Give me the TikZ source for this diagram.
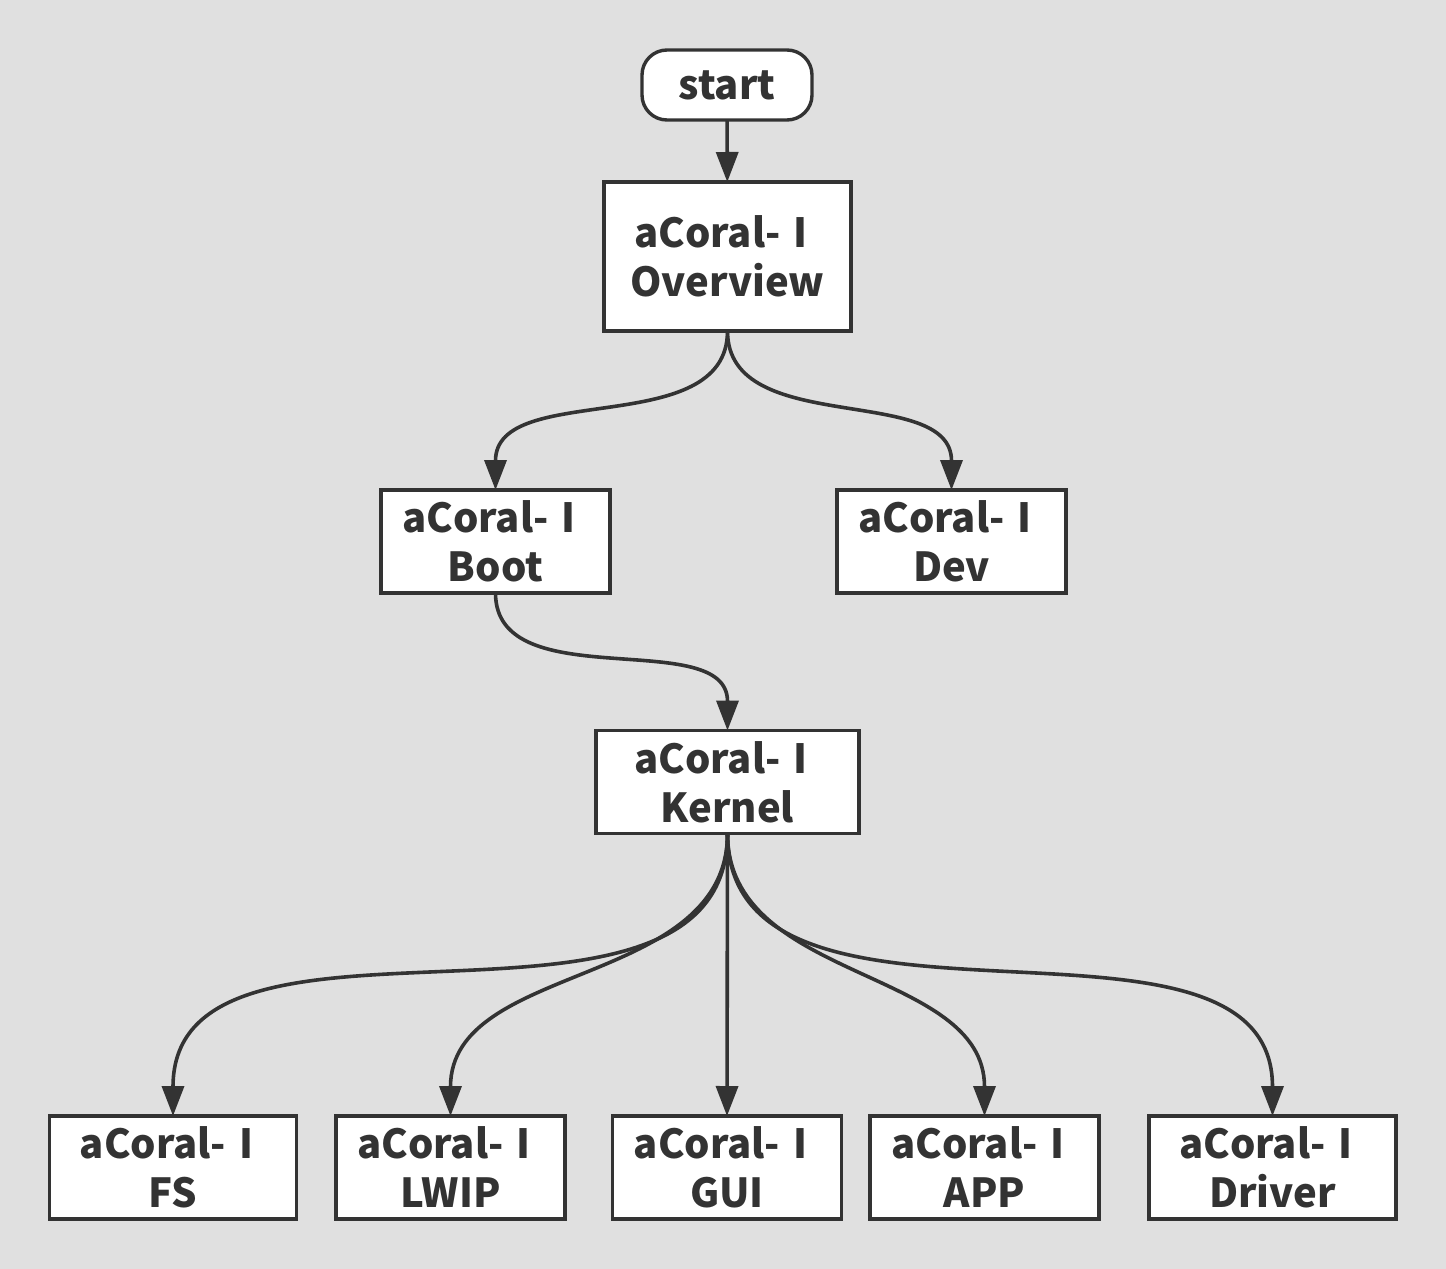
\documentclass[tikz,border=0pt]{standalone}
\usepackage{fontspec}
\setmainfont{Noto Sans CJK SC}
\usetikzlibrary{arrows.meta}
\definecolor{bgcol}{HTML}{E0E0E0}
\definecolor{inkcol}{HTML}{333333}

\begin{document}
\begin{tikzpicture}
  [x=0.5pt,y=-0.5pt,
  box/.style={rectangle,draw=inkcol,fill=white,line width=1.7pt,align=center,
                  inner sep=0,outer sep=0,text=inkcol,
                  font=\bfseries\fontsize{20}{24.5}\selectfont},
  startbox/.style={box,rounded corners=12.5pt,minimum width=85pt,minimum height=35pt},
  bigbox/.style={box,minimum width=123.5pt,minimum height=74.5pt},
  midbox/.style={box,minimum width=114.5pt,minimum height=51.5pt},
  wide/.style={minimum width=123.5pt},
  flow/.style={draw=inkcol,line width=1.8pt,-{Triangle[width=11pt,length=15pt]}}
                  ]
  \fill[bgcol] (0,0) rectangle (1446,1269);

  \node[startbox] (start) at (727,85) {start};
  \node[bigbox] (overview) at (727.5,256.5) {aCoral-Ⅰ\\Overview};
  \node[midbox] (boot) at (495.5,541.5) {aCoral-Ⅰ\\Boot};
  \node[midbox] (dev) at (951.5,541.5) {aCoral-Ⅰ\\Dev};
  \node[midbox,minimum width=131.5pt] (kernel) at (727.5,782) {aCoral-Ⅰ\\Kernel};
  \node[midbox,wide] (fs) at (173,1167.5) {aCoral-Ⅰ\\FS};
  \node[midbox] (lwip) at (450.5,1167.5) {aCoral-Ⅰ\\LWIP};
  \node[midbox] (gui) at (727,1167.5) {aCoral-Ⅰ\\GUI};
  \node[midbox] (app) at (984.5,1167.5) {aCoral-Ⅰ\\APP};
  \node[midbox,wide] (driver) at (1272.5,1167.5) {aCoral-Ⅰ\\Driver};

  \draw[flow] (start) to (overview);
  \draw[flow] (overview.south) to [out=-90,in=90] (boot.north);
  \draw[flow] (overview.south) to [out=-90,in=90] (dev.north);
  \draw[flow] (boot.south) to [out=-90,in=90] (kernel.north);
  \draw[flow] (kernel.south) to [out=-90,in=90] (fs.north);
  \draw[flow] (kernel.south) to [out=-90,in=90] (lwip.north);
  \draw[flow] (kernel.south) to (gui.north);
  \draw[flow] (kernel.south) to [out=-90,in=90] (app.north);
  \draw[flow] (kernel.south) to [out=-90,in=90] (driver.north);
\end{tikzpicture}
\end{document}
